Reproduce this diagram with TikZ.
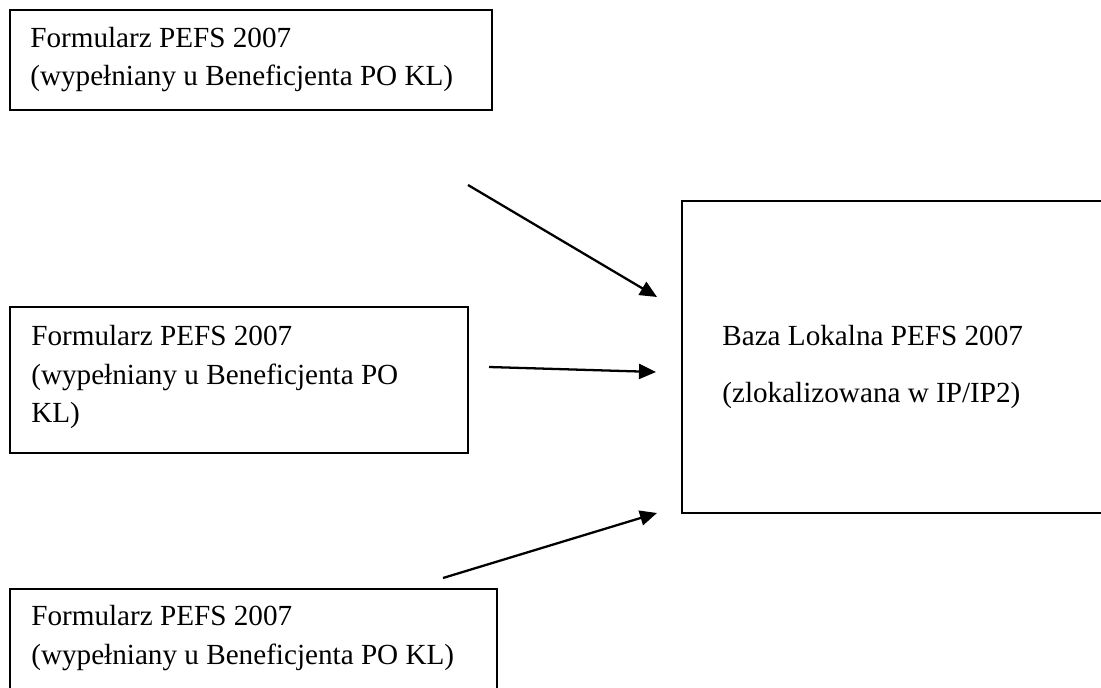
\documentclass[tikz,border=0pt]{standalone}
\usepackage{fontspec}
\setmainfont{Liberation Serif}
\usepackage{tikz}
\usetikzlibrary{arrows.meta,positioning}
\tikzset{
  formbox/.style={draw=black, line width=0.9pt, anchor=north west, inner sep=0pt, outer sep=0pt},
  bazabox/.style={formbox},
  txt/.style={anchor=base west, inner sep=0pt, align=left,
    font=\fontsize{16.6}{22.1}\selectfont},
  arr/.style={-{Triangle[length=0.34cm,width=0.3cm]}, line width=1.3pt}
}

\begin{document}
\begin{tikzpicture}[x=0.02cm, y=-0.02cm]
  \useasboundingbox (0,0) rectangle (1101,688);

  % formularze
  \node[formbox, minimum width=9.64cm, minimum height=2.0cm] (form1) at (10,10) {};
  \node[formbox, minimum width=9.16cm, minimum height=2.92cm] (form2) at (10,307) {};
  \node[formbox, minimum width=9.74cm, minimum height=2.8cm] (form3) at (10,589) {};
  % base = baseline of the last line
  \node[txt] (form1txt) at (30,86) {Formularz PEFS 2007\\(wypełniany u Beneficjenta PO KL)};
  \node[txt] (form2txt) at (31,423) {Formularz PEFS 2007\\(wypełniany u Beneficjenta PO\\KL)};
  \node[txt] (form3txt) at (31,664) {Formularz PEFS 2007\\(wypełniany u Beneficjenta PO KL)};

  % baza lokalna
  \node[bazabox, minimum width=9.2cm, minimum height=6.24cm] (baza) at (682,201) {};
  \node[txt] (bazatxt) at (722,403) {Baza Lokalna PEFS 2007\\[0.38cm](zlokalizowana w IP/IP2)};

  \coordinate (in1) at (468,185);
  \coordinate (out1) at (657,297);
  \coordinate (in2) at (489,367);
  \coordinate (out2) at (656,372);
  \coordinate (in3) at (443,578);
  \coordinate (out3) at (657,513);

  \draw[arr] (in1) -- (out1);
  \draw[arr] (in2) -- (out2);
  \draw[arr] (in3) -- (out3);
\end{tikzpicture}
\end{document}
